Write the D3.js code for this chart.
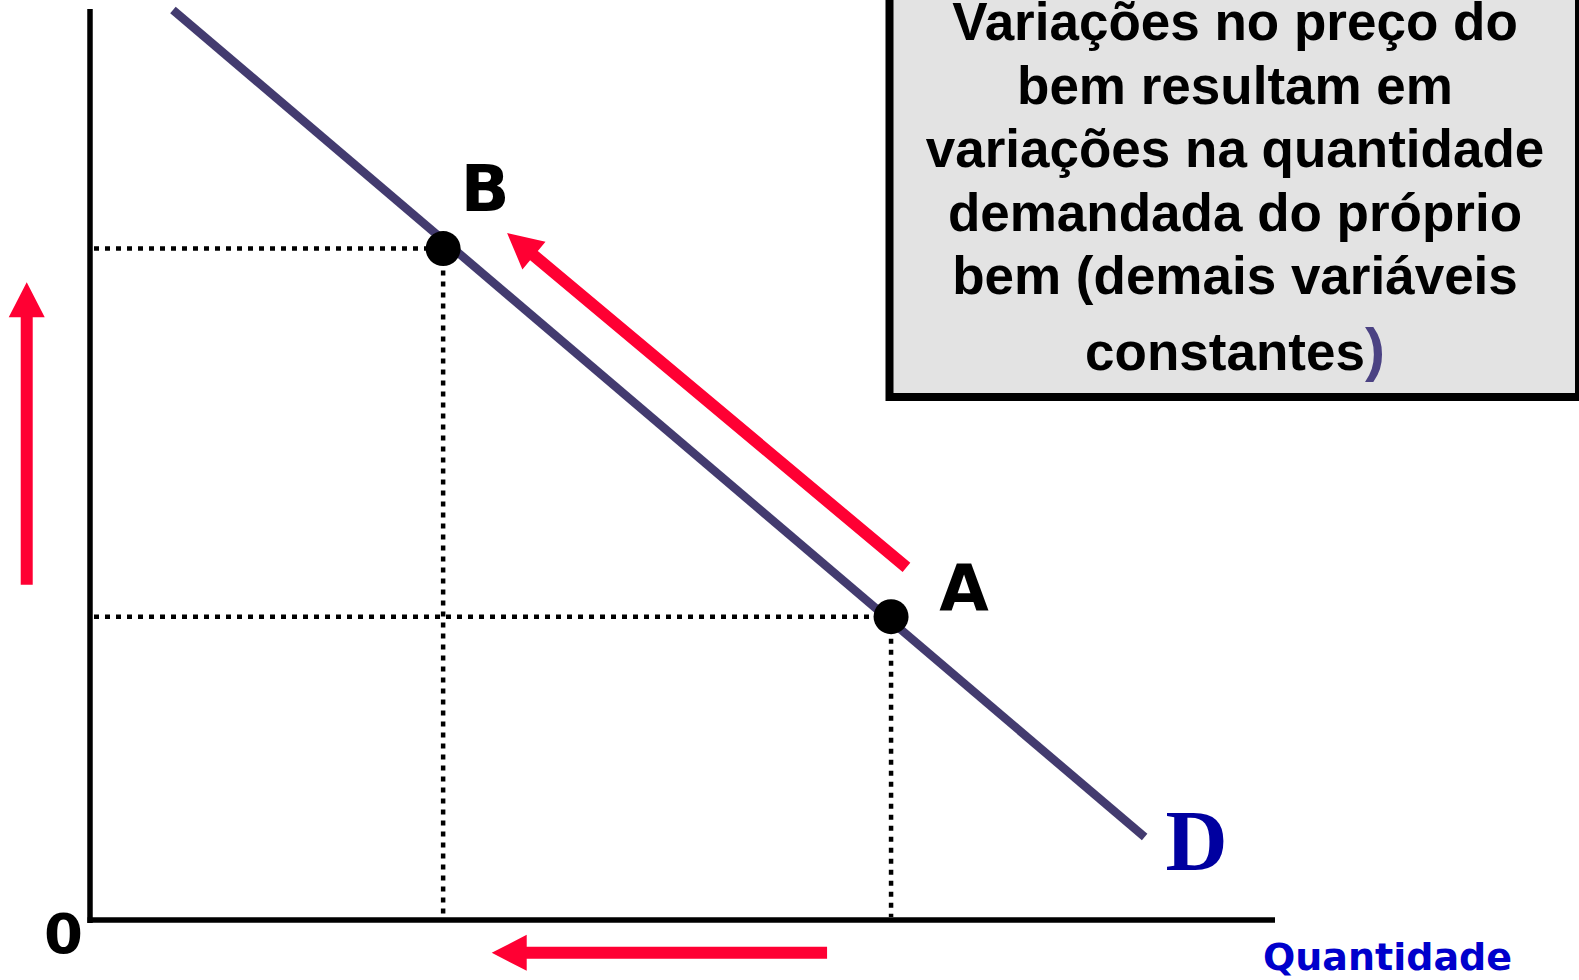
<!DOCTYPE html>
<html>
<head>
<meta charset="utf-8">
<script src="https://cdn.jsdelivr.net/npm/d3@7"></script>
<style>
  body { margin: 0; background: #fff; overflow: hidden; }
</style>
</head>
<body>
<div id="chart"></div>
<script>
// Demand curve D, in (quantity, price) units
const demandLine = [[7.0, 99.9], [89.0, 9.1]];

// Points on the curve
const pointLabels = ["B", "A"];
const pointQty = [29.8, 67.6];
const pointPrice = [73.7, 33.3];

// Red arrows: [from, to] in (quantity, price) units
const priceArrow = [[-5.34, 36.8], [-5.34, 70.0]];
const qtyArrow = [[62.2, -3.6], [33.9, -3.6]];
const moveArrow = [[68.9, 38.7], [35.2, 75.4]];

// Text box
const boxLines = [
  "Variações no preço do",
  "bem resultam em",
  "variações na quantidade",
  "demandada do próprio",
  "bem (demais variáveis"
];
const boxLastLine = "constantes";

const width = 1579, height = 980;
const red = "#ff0033";

const svg = d3.select("#chart").append("svg")
  .attr("width", width)
  .attr("height", height);

const x = d3.scaleLinear().domain([0, 100]).range([90, 1275]);
const y = d3.scaleLinear().domain([0, 100]).range([920, 9]);

// axes (plain lines, no ticks)
svg.append("line")
  .attr("x1", x(0)).attr("x2", x(0))
  .attr("y1", y(100)).attr("y2", y(0) + 3)
  .attr("stroke", "#000").attr("stroke-width", 5.5);
svg.append("line")
  .attr("x1", x(0) - 2.5).attr("x2", x(100))
  .attr("y1", y(0)).attr("y2", y(0))
  .attr("stroke", "#000").attr("stroke-width", 5.5);

const pts = pointLabels.map((l, i) => ({ label: l, q: pointQty[i], p: pointPrice[i] }));

// dotted guide lines
const guides = svg.append("g")
  .attr("stroke", "#000")
  .attr("stroke-width", 4.5)
  .attr("stroke-dasharray", "5,6");
pts.forEach(d => {
  guides.append("line")
    .attr("x1", x(0) + 4).attr("x2", x(d.q))
    .attr("y1", y(d.p)).attr("y2", y(d.p));
  guides.append("line")
    .attr("x1", x(d.q)).attr("x2", x(d.q))
    .attr("y1", y(d.p)).attr("y2", y(0) - 3);
});

// demand curve
svg.append("path")
  .datum(demandLine)
  .attr("d", d3.line().x(d => x(d[0])).y(d => y(d[1])))
  .attr("fill", "none")
  .attr("stroke", "#433b6f")
  .attr("stroke-width", 8.5);

// points
svg.selectAll(".pt")
  .data(pts)
  .enter()
  .append("circle")
  .attr("class", "pt")
  .attr("cx", d => x(d.q))
  .attr("cy", d => y(d.p))
  .attr("r", 17.5)
  .attr("fill", "#000");

// point labels
const labelOffset = { B: [42, -38], A: [73, -6] };
svg.selectAll(".pt-label")
  .data(pts)
  .enter()
  .append("text")
  .attr("class", "pt-label")
  .attr("x", d => x(d.q) + labelOffset[d.label][0])
  .attr("y", d => y(d.p) + labelOffset[d.label][1])
  .attr("text-anchor", "middle")
  .attr("font-family", "'DejaVu Sans', Verdana, sans-serif")
  .attr("font-weight", "bold")
  .attr("font-size", 64)
  .text(d => d.label);

// arrow: shaft + triangular head as one polygon
function arrow(a) {
  const x1 = x(a[0][0]), y1 = y(a[0][1]);
  const x2 = x(a[1][0]), y2 = y(a[1][1]);
  const len = Math.hypot(x2 - x1, y2 - y1);
  const ux = (x2 - x1) / len, uy = (y2 - y1) / len;
  const nx = -uy, ny = ux;
  const hl = 35, hw = 18, sw = 6;
  const bx = x2 - ux * hl, by = y2 - uy * hl;
  const poly = [
    [x1 + nx * sw, y1 + ny * sw],
    [bx + nx * sw, by + ny * sw],
    [bx + nx * hw, by + ny * hw],
    [x2, y2],
    [bx - nx * hw, by - ny * hw],
    [bx - nx * sw, by - ny * sw],
    [x1 - nx * sw, y1 - ny * sw]
  ];
  svg.append("polygon")
    .attr("points", poly.map(p => p.join(",")).join(" "))
    .attr("fill", red);
}
arrow(priceArrow);
arrow(qtyArrow);
arrow(moveArrow);

// curve name
svg.append("text")
  .attr("x", 1165.5)
  .attr("y", 870)
  .attr("font-family", "'Liberation Serif', 'Times New Roman', serif")
  .attr("font-weight", "bold")
  .attr("font-size", 86)
  .attr("fill", "#0000a0")
  .text("D");

// origin
svg.append("text")
  .attr("x", 63.5)
  .attr("y", 953)
  .attr("text-anchor", "middle")
  .attr("font-family", "'DejaVu Sans', Verdana, sans-serif")
  .attr("font-weight", "bold")
  .attr("font-size", 56)
  .text("0");

// axis title
svg.append("text")
  .attr("x", 1263)
  .attr("y", 970)
  .attr("font-family", "'DejaVu Sans', Verdana, sans-serif")
  .attr("font-weight", "bold")
  .attr("font-size", 38)
  .attr("fill", "#0000cc")
  .text("Quantidade");

// annotation box
svg.append("rect")
  .attr("x", 889.5)
  .attr("y", -20)
  .attr("width", 689.5)
  .attr("height", 417)
  .attr("fill", "#e3e3e3")
  .attr("stroke", "#000")
  .attr("stroke-width", 8);

const boxText = svg.append("g")
  .attr("font-family", "'Liberation Sans', Arial, sans-serif")
  .attr("font-weight", "bold")
  .attr("font-size", 53)
  .attr("text-anchor", "middle")
  .attr("fill", "#000");

boxText.selectAll("text.line")
  .data(boxLines)
  .enter()
  .append("text")
  .attr("class", "line")
  .attr("x", 1235)
  .attr("y", (d, i) => 40 + i * 63.5)
  .text(d => d);

const last = boxText.append("text")
  .attr("x", 1235)
  .attr("y", 370);
last.append("tspan").text(boxLastLine);
last.append("tspan")
  .attr("fill", "#4b4283")
  .attr("font-size", 60)
  .text(")");
</script>
</body>
</html>
